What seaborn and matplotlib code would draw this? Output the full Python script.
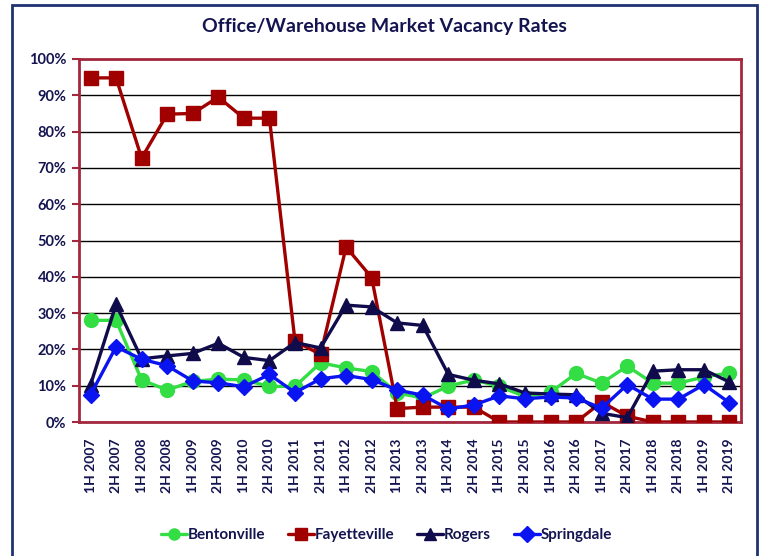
import matplotlib
matplotlib.use("Agg")
import matplotlib.pyplot as plt
import matplotlib.patches as mpatches
import seaborn as sns
import pandas as pd
import numpy as np
from matplotlib.ticker import FuncFormatter, MultipleLocator

periods = [f"{h} {y}" for y in range(2007, 2020) for h in ("1H", "2H")]

bentonville = [28.0, 28.0, 11.6, 8.8, 11.2, 11.8, 11.6, 9.8, 9.8, 16.3, 14.9, 13.9,
               8.0, 6.6, 9.9, 11.6, 9.8, 7.0, 8.2, 13.4, 10.7, 15.4, 10.7, 10.7, 12.4, 13.5]
fayetteville = [94.8, 94.8, 72.7, 84.8, 85.0, 89.5, 83.7, 83.7, 22.3, 18.6, 48.2, 39.8,
                3.7, 4.1, 4.1, 4.1, 0.0, 0.0, 0.0, 0.0, 5.5, 1.6, 0.0, 0.0, 0.0, 0.0]
rogers = [10.2, 32.4, 17.4, 18.2, 18.9, 21.7, 17.8, 16.9, 21.9, 20.4, 32.2, 31.7,
          27.3, 26.6, 13.1, 11.5, 10.5, 8.0, 7.7, 7.5, 2.4, 1.2, 14.0, 14.4, 14.4, 11.0]
springdale = [7.5, 20.7, 17.3, 15.5, 11.3, 10.8, 9.7, 13.1, 8.1, 11.9, 12.8, 11.7,
              8.8, 7.4, 3.6, 4.7, 7.2, 6.4, 6.9, 6.6, 3.8, 10.3, 6.3, 6.3, 10.3, 5.3]

series = {"Bentonville": bentonville, "Fayetteville": fayetteville,
          "Rogers": rogers, "Springdale": springdale}
colors = {"Bentonville": "#33DD44", "Fayetteville": "#A00000",
          "Rogers": "#100C4C", "Springdale": "#0A14F0"}
markers = {"Bentonville": "o", "Fayetteville": "s", "Rogers": "^", "Springdale": "D"}
msizes = {"Bentonville": 10, "Fayetteville": 10, "Rogers": 10, "Springdale": 8.5}

rows = []
for name, vals in series.items():
    for i, (p, v) in enumerate(zip(periods, vals)):
        rows.append({"period": p, "idx": i, "city": name, "value": v})
df = pd.DataFrame(rows)

sns.set_theme(style="white")
plt.rcParams["font.family"] = ["Lato", "DejaVu Sans"]

navy = "#141450"
maroon = "#A3283E"

fig = plt.figure(figsize=(7.61, 5.56), dpi=100)
ax = fig.add_axes([79/761, 1 - 422/556, (741-79)/761, (422-59)/556])

for name in series:
    sub = df[df.city == name]
    sns.lineplot(data=sub, x="idx", y="value", ax=ax, color=colors[name],
                 marker=markers[name], markersize=msizes[name], linewidth=2.4,
                 markeredgecolor=colors[name], markeredgewidth=1, label=name,
                 zorder=3)

ax.set_xlim(-0.45, len(periods) - 0.55)
ax.set_ylim(0, 100)
ax.yaxis.set_major_locator(MultipleLocator(10))
ax.yaxis.set_major_formatter(FuncFormatter(lambda v, _: f"{int(v)}%"))
ax.set_xticks(range(len(periods)))
ax.set_xticklabels(periods, rotation=90)
ax.set_xlabel("")
ax.set_ylabel("")
ax.grid(axis="y", color="black", linewidth=1)
ax.set_axisbelow(True)
for s in ax.spines.values():
    s.set_color(maroon)
    s.set_linewidth(2)
ax.tick_params(axis="y", which="major", left=True, length=5, width=1.5,
               color=maroon, labelsize=10.5, labelcolor=navy, pad=4)
ax.tick_params(axis="x", bottom=False, labelsize=10, labelcolor=navy, pad=6)
for t in ax.get_yticklabels() + ax.get_xticklabels():
    t.set_fontweight("bold")

fig.text(0.505, 0.953, "Office/Warehouse Market Vacancy Rates", ha="center",
         va="center", fontsize=14, fontweight="bold", color=navy)

handles, labels = ax.get_legend_handles_labels()
ax.legend_.remove() if ax.legend_ else None
leg = fig.legend(handles, labels, loc="center", bbox_to_anchor=(0.508, 0.037),
                 ncol=4, frameon=False, handlelength=1.7, handletextpad=0.05,
                 columnspacing=1.5, prop={"weight": "bold", "size": 11})
for t in leg.get_texts():
    t.set_color(navy)
for h in leg.legend_handles:
    h.set_markersize(8)

border = mpatches.Rectangle((12/761, -0.05), (757-12)/761, 1 - 5/556 + 0.05,
                            transform=fig.transFigure, fill=False,
                            edgecolor="#1F3370", linewidth=2, clip_on=False)
fig.patches.append(border)

fig.savefig("out.png", dpi=100)
